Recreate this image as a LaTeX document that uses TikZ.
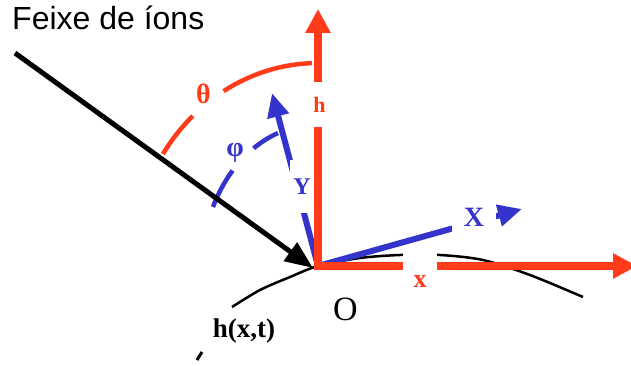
\documentclass[tikz,border=0pt]{standalone}
\usepackage{fontspec}
\setmainfont{Liberation Serif}
\setsansfont{Liberation Sans}
\usetikzlibrary{arrows.meta}
\definecolor{axred}{HTML}{FF3B1A}
\definecolor{axblue}{HTML}{3434CC}
\newcommand{\fs}[1]{\fontsize{#1}{#1}\selectfont}

\begin{document}
\begin{tikzpicture}[x=1pt,y=1pt,
  gap/.style={fill=white,inner sep=0pt},
  redax/.style={axred,line width=7.5pt,line cap=rect,-{Triangle[length=24pt,width=24pt]}},
  blueax/.style={axblue,line width=6pt,-{Triangle[length=24pt,width=21pt]}}]
\useasboundingbox (0,0) rectangle (631,365);
\coordinate (O) at (318,99);
\coordinate (htip) at (318,356);
\coordinate (xtip) at (637,99);
\coordinate (Ytip) at (272,272);
\coordinate (Xtip) at (522,156);
\coordinate (beam) at (15,312);
\coordinate (hit) at (313,97);
\draw[line width=2.5pt] plot[smooth] coordinates {(232,58) (260,75) (290,88) (318,99) (360,107) (400,110) (440,110) (483,105) (530,90) (583,68)};
\draw[line width=3pt] (197,5) -- (202,13);
\draw[blueax] (O) -- (Ytip);
\draw[blueax] (O) -- (Xtip);
\draw[axblue,line width=4.5pt] ([shift={(O)}]155.4:115.5pt and 141.8pt) arc[start angle=155.4,end angle=137.7,x radius=115.5pt,y radius=141.8pt];
\draw[axblue,line width=4.5pt] ([shift={(O)}]123.9:115.5pt and 141.8pt) arc[start angle=123.9,end angle=110.3,x radius=115.5pt,y radius=141.8pt];
\node[gap,text=axblue,font=\bfseries\fs{24},minimum width=24pt,minimum height=53pt] (Y) at (302,178.5) {Y};
\node[gap,text=axblue,font=\bfseries\fs{28},minimum width=44pt,minimum height=28pt] (X) at (474,147.5) {X};
\draw[redax] (O) -- (htip);
\draw[redax] (O) -- (xtip);
\draw[axred,line width=4.5pt] ([shift={(O)}]146.5:186pt and 203pt) arc[start angle=146.5,end angle=132.3,x radius=186pt,y radius=203pt];
\draw[axred,line width=4.5pt] ([shift={(O)}]120.5:186pt and 203pt) arc[start angle=120.5,end angle=91.9,x radius=186pt,y radius=203pt];
\node[gap,text=axred,font=\bfseries\fs{22},minimum width=18pt,minimum height=45pt] (h) at (319.5,260.5) {h};
\node[gap,text=axred,font=\bfseries\fs{26},minimum width=34pt,minimum height=60pt] (x) at (420,83) {x};
\draw[line width=5pt,-{Triangle[length=28pt,width=22pt]}] (beam) -- (hit);
\node[text=axred,font=\bfseries\fs{28}] (th) at (203.5,271.5) {θ};
\node[text=axblue,font=\bfseries\fs{28}] (ph) at (235,212) {φ};
\node[font=\fs{34}] (o) at (345.5,56) {O};
\node[font=\bfseries\fs{27}] (hxt) at (244,34) {h(x,t)};
\node[font=\sffamily\fs{32},anchor=base west,inner sep=0pt] (feixe) at (12,335) {Feixe de íons};
\end{tikzpicture}
\end{document}
